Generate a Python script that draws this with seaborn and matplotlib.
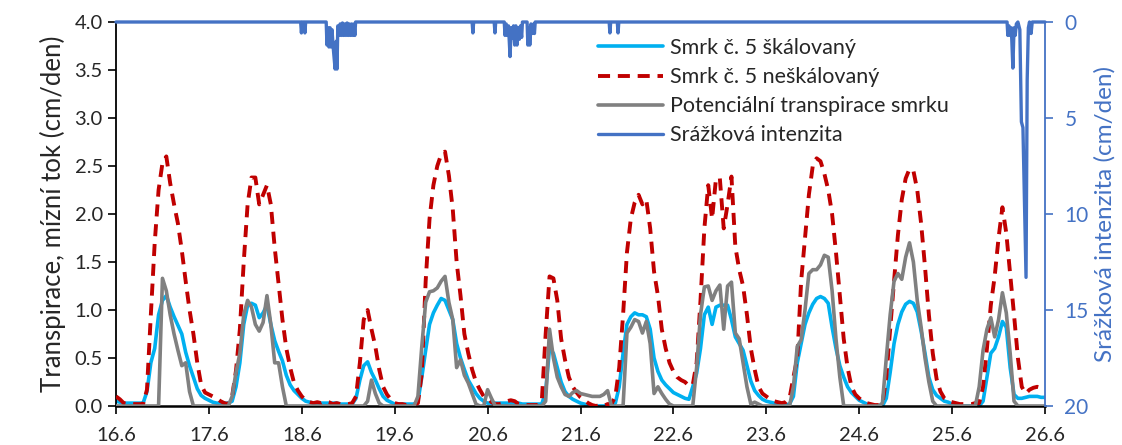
import numpy as np
import pandas as pd
import matplotlib
matplotlib.use("Agg")
import matplotlib.pyplot as plt
import seaborn as sns

# Hourly series, 16.6. 00:00 through 26.6. 00:00 (241 values each), cm/den
scaled = [
    0.05, 0.04, 0.03, 0.03, 0.03, 0.03, 0.03, 0.03, 0.15, 0.45, 0.60, 0.95, 1.10, 1.15, 1.03, 0.93, 0.84, 0.75, 0.56, 0.42, 0.30, 0.18, 0.11, 0.08,
    0.06, 0.04, 0.03, 0.03, 0.03, 0.03, 0.05, 0.20, 0.45, 0.85, 1.05, 1.07, 1.05, 0.92, 0.97, 1.05, 0.85, 0.68, 0.57, 0.47, 0.32, 0.22, 0.16, 0.12,
    0.08, 0.05, 0.04, 0.03, 0.03, 0.03, 0.03, 0.03, 0.03, 0.03, 0.02, 0.02, 0.02, 0.02, 0.08, 0.27, 0.42, 0.46, 0.35, 0.27, 0.18, 0.10, 0.06, 0.04,
    0.02, 0.02, 0.02, 0.02, 0.02, 0.02, 0.05, 0.30, 0.58, 0.85, 0.97, 1.05, 1.12, 1.10, 1.00, 0.90, 0.65, 0.50, 0.38, 0.27, 0.20, 0.13, 0.08, 0.05,
    0.03, 0.03, 0.03, 0.03, 0.03, 0.03, 0.03, 0.03, 0.03, 0.02, 0.02, 0.02, 0.02, 0.02, 0.02, 0.15, 0.60, 0.55, 0.40, 0.25, 0.15, 0.10, 0.07, 0.05,
    0.03, 0.02, 0.01, 0.00, 0.00, 0.00, 0.00, 0.01, 0.01, 0.03, 0.20, 0.55, 0.85, 0.93, 0.97, 0.95, 0.95, 0.93, 0.80, 0.50, 0.36, 0.27, 0.22, 0.18,
    0.14, 0.12, 0.10, 0.08, 0.07, 0.20, 0.34, 0.60, 0.95, 1.03, 0.85, 1.03, 1.05, 1.05, 1.05, 0.90, 0.72, 0.65, 0.58, 0.42, 0.26, 0.16, 0.11, 0.07,
    0.05, 0.04, 0.03, 0.02, 0.01, 0.01, 0.02, 0.10, 0.45, 0.65, 0.85, 0.97, 1.06, 1.12, 1.14, 1.12, 1.07, 0.82, 0.60, 0.42, 0.30, 0.20, 0.14, 0.10,
    0.06, 0.04, 0.02, 0.01, 0.00, 0.00, 0.00, 0.08, 0.35, 0.65, 0.85, 0.98, 1.06, 1.09, 1.07, 0.98, 0.78, 0.55, 0.30, 0.17, 0.11, 0.08, 0.05, 0.04,
    0.02, 0.01, 0.00, 0.00, 0.00, 0.00, 0.00, 0.00, 0.05, 0.30, 0.55, 0.60, 0.72, 0.88, 0.82, 0.40, 0.12, 0.08, 0.08, 0.09, 0.10, 0.10, 0.10, 0.09,
    0.09,
]

unscaled = [
    0.10, 0.07, 0.03, 0.02, 0.02, 0.02, 0.02, 0.02, 0.17, 0.95, 1.70, 2.25, 2.53, 2.60, 2.32, 2.10, 1.90, 1.62, 1.30, 1.00, 0.75, 0.45, 0.22, 0.14,
    0.12, 0.10, 0.08, 0.05, 0.03, 0.02, 0.10, 0.37, 0.80, 1.50, 2.10, 2.38, 2.38, 2.10, 2.20, 2.30, 2.10, 1.65, 1.28, 0.90, 0.60, 0.40, 0.24, 0.16,
    0.10, 0.06, 0.04, 0.03, 0.04, 0.03, 0.05, 0.04, 0.02, 0.03, 0.02, 0.02, 0.02, 0.03, 0.10, 0.45, 0.90, 1.00, 0.80, 0.62, 0.38, 0.20, 0.12, 0.07,
    0.03, 0.02, 0.02, 0.01, 0.02, 0.02, 0.03, 0.34, 1.30, 1.95, 2.30, 2.50, 2.62, 2.65, 2.40, 2.05, 1.50, 1.15, 0.75, 0.55, 0.38, 0.25, 0.17, 0.10,
    0.08, 0.04, 0.02, 0.02, 0.03, 0.05, 0.06, 0.05, 0.02, 0.01, 0.01, 0.01, 0.01, 0.01, 0.05, 0.75, 1.35, 1.33, 1.10, 0.70, 0.48, 0.30, 0.20, 0.14,
    0.09, 0.06, 0.03, 0.01, 0.00, 0.01, 0.00, 0.02, 0.02, 0.10, 0.40, 0.95, 1.60, 1.95, 2.12, 2.20, 2.10, 2.15, 1.85, 1.40, 1.15, 0.80, 0.60, 0.45,
    0.36, 0.30, 0.27, 0.25, 0.21, 0.22, 0.45, 1.10, 1.85, 2.30, 1.95, 2.37, 2.37, 1.85, 2.10, 2.39, 1.66, 1.42, 1.25, 0.95, 0.60, 0.38, 0.20, 0.13,
    0.10, 0.07, 0.05, 0.04, 0.03, 0.04, 0.08, 0.30, 0.50, 1.30, 1.75, 2.20, 2.50, 2.58, 2.55, 2.42, 2.25, 2.00, 1.60, 1.15, 0.70, 0.40, 0.20, 0.12,
    0.08, 0.05, 0.03, 0.02, 0.01, 0.01, 0.02, 0.30, 0.80, 1.30, 1.78, 2.15, 2.37, 2.47, 2.45, 2.25, 1.90, 1.45, 0.95, 0.55, 0.28, 0.15, 0.08, 0.05,
    0.04, 0.03, 0.02, 0.02, 0.02, 0.02, 0.03, 0.03, 0.20, 0.60, 1.05, 1.35, 1.75, 2.07, 1.80, 1.38, 0.95, 0.50, 0.20, 0.13, 0.17, 0.19, 0.20, 0.19,
    0.19,
]

potential = [
    0.00, 0.00, 0.00, 0.00, 0.00, 0.00, 0.00, 0.00, 0.00, 0.00, 0.00, 0.00, 1.33, 1.20, 0.95, 0.75, 0.58, 0.42, 0.45, 0.15, 0.00, 0.00, 0.00, 0.00,
    0.00, 0.00, 0.00, 0.00, 0.00, 0.00, 0.10, 0.35, 0.55, 0.95, 1.10, 1.03, 0.85, 0.78, 0.87, 1.15, 0.85, 0.45, 0.45, 0.20, 0.00, 0.00, 0.00, 0.00,
    0.00, 0.00, 0.00, 0.00, 0.00, 0.00, 0.00, 0.00, 0.00, 0.00, 0.00, 0.00, 0.00, 0.00, 0.00, 0.00, 0.00, 0.05, 0.27, 0.13, 0.03, 0.00, 0.00, 0.00,
    0.00, 0.00, 0.00, 0.00, 0.00, 0.00, 0.10, 0.62, 1.08, 1.19, 1.20, 1.23, 1.30, 1.35, 1.08, 0.90, 0.40, 0.48, 0.32, 0.24, 0.13, 0.02, 0.00, 0.00,
    0.17, 0.08, 0.00, 0.00, 0.00, 0.00, 0.00, 0.00, 0.00, 0.00, 0.00, 0.00, 0.00, 0.00, 0.00, 0.05, 0.80, 0.50, 0.30, 0.20, 0.12, 0.10, 0.14, 0.16,
    0.13, 0.12, 0.11, 0.10, 0.10, 0.10, 0.12, 0.16, 0.00, 0.00, 0.00, 0.00, 0.76, 0.82, 0.90, 0.88, 0.76, 0.88, 0.65, 0.13, 0.20, 0.13, 0.07, 0.02,
    0.00, 0.00, 0.00, 0.00, 0.00, 0.00, 0.40, 0.95, 1.24, 1.25, 1.10, 1.20, 1.26, 0.80, 1.25, 1.29, 0.76, 0.70, 0.45, 0.20, 0.02, 0.04, 0.02, 0.00,
    0.00, 0.00, 0.00, 0.00, 0.00, 0.00, 0.00, 0.20, 0.62, 0.69, 1.00, 1.38, 1.42, 1.42, 1.47, 1.57, 1.55, 1.20, 0.70, 0.30, 0.00, 0.00, 0.00, 0.00,
    0.00, 0.00, 0.00, 0.00, 0.00, 0.00, 0.03, 0.50, 0.95, 1.30, 1.38, 1.32, 1.55, 1.70, 1.50, 1.10, 0.82, 0.50, 0.25, 0.05, 0.00, 0.00, 0.00, 0.00,
    0.00, 0.00, 0.00, 0.00, 0.00, 0.00, 0.00, 0.20, 0.58, 0.80, 0.92, 0.72, 0.90, 1.18, 0.97, 0.55, 0.05, 0.00, 0.00, 0.00, 0.00, 0.00, 0.00, 0.00,
    0.00,
]

# Rain intensity (cm/den) at irregular times, hours since 16.6. 00:00
rain_hours = [
    0.0, 47.7, 47.9, 48.1, 48.6, 48.8, 49.0,
    54.3, 54.5, 54.8, 55.0, 55.3, 55.5, 55.8, 56.1, 56.6, 56.9, 57.1, 57.3, 57.6, 57.9, 58.2,
    58.5, 58.8, 59.1, 59.4, 59.7, 60.0, 60.3, 60.6, 60.9, 61.2, 61.5, 61.7, 61.9,
    92.0, 92.2, 92.4, 97.7, 97.9, 98.1,
    100.3, 100.5, 100.8, 101.1, 101.4, 101.8, 102.1, 102.4, 102.7, 103.0, 103.3, 103.6, 103.9,
    104.2, 104.5, 104.8, 105.0, 106.2, 106.4, 106.7, 106.9, 107.2, 107.6, 107.9, 108.1, 108.3,
    127.4, 127.6, 127.8, 129.5, 129.7, 129.9,
    230.2, 230.4, 230.7, 231.0, 231.3, 231.7, 232.0, 232.3, 232.6, 233.0, 233.5, 233.9, 234.3,
    235.1, 235.4, 235.7, 236.0, 236.4, 236.7, 240.0,
]
rain_values = [
    0.0, 0.0, 0.57, 0.0, 0.0, 0.57, 0.0,
    0.0, 1.2, 0.3, 1.3, 0.3, 1.3, 0.4, 1.3, 2.45, 1.0, 2.45, 0.2, 0.7, 0.1, 0.7,
    0.05, 0.7, 0.1, 0.7, 0.05, 0.7, 0.1, 0.7, 0.1, 0.7, 0.1, 0.7, 0.0,
    0.0, 0.57, 0.0, 0.0, 0.57, 0.0,
    0.0, 0.7, 0.1, 0.7, 0.2, 1.8, 0.3, 0.85, 0.2, 1.2, 0.2, 1.2, 0.3,
    0.9, 0.2, 0.8, 0.0, 0.0, 1.2, 0.3, 1.2, 0.1, 0.6, 0.1, 0.6, 0.0,
    0.0, 0.57, 0.0, 0.0, 0.57, 0.0,
    0.0, 0.7, 0.2, 0.7, 0.3, 2.4, 0.3, 0.7, 0.1, 0.0, 0.4, 5.2, 5.5,
    13.3, 3.0, 0.3, 0.0, 0.6, 0.0, 0.0,
]

day_labels = ["16.6", "17.6", "18.6", "19.6", "20.6", "21.6", "22.6", "23.6", "24.6", "25.6", "26.6"]

labels = {
    "scaled": "Smrk č. 5 škálovaný",
    "unscaled": "Smrk č. 5 neškálovaný",
    "potential": "Potenciální transpirace smrku",
    "rain": "Srážková intenzita",
}

c_scaled = "#00B0F0"
c_unscaled = "#C00000"
c_potential = "#808080"
c_rain = "#4472C4"

sns.set_theme(style="white")
plt.rcParams["font.family"] = ["Lato", "DejaVu Sans"]

flow = pd.DataFrame({
    "den": np.arange(len(scaled)) / 24.0,
    "scaled": scaled,
    "unscaled": unscaled,
    "potential": potential,
})
rain = pd.DataFrame({"den": np.array(rain_hours) / 24.0, "rain": rain_values})

fig = plt.figure(figsize=(11.22, 4.45), dpi=100)
ax = fig.add_axes([116 / 1122, 1 - 406 / 445, (1045 - 116) / 1122, (406 - 22) / 445])

sns.lineplot(data=flow, x="den", y="scaled", ax=ax, color=c_scaled, lw=2.6,
             label=labels["scaled"], zorder=2)
sns.lineplot(data=flow, x="den", y="unscaled", ax=ax, color=c_unscaled, lw=2.8,
             linestyle=(0, (3.1, 2.0)), label=labels["unscaled"], zorder=3)
sns.lineplot(data=flow, x="den", y="potential", ax=ax, color=c_potential, lw=2.6,
             label=labels["potential"], zorder=4)

ax.set_xlim(0, 10)
ax.set_ylim(0, 4)
ax.set_xticks(range(len(day_labels)))
ax.set_xticklabels(day_labels)
ax.set_yticks(np.arange(0, 4.01, 0.5))
ax.set_yticklabels([f"{v:.1f}" for v in np.arange(0, 4.01, 0.5)])
ax.set_xlabel("")
ax.set_ylabel("Transpirace, mízní tok (cm/den)", fontsize=18.5, labelpad=6)
ax.tick_params(axis="both", which="major", labelsize=14.5, direction="out",
               length=6, width=1.2, color="black", left=True, bottom=True)
ax.tick_params(axis="x", pad=9)
for side in ("top", "right"):
    ax.spines[side].set_visible(False)
ax.spines["left"].set_color("black")
ax.spines["left"].set_linewidth(1.3)
ax.spines["bottom"].set_color("black")
ax.spines["bottom"].set_linewidth(1.8)

ax2 = ax.twinx()
sns.lineplot(data=rain, x="den", y="rain", ax=ax2, color=c_rain, lw=2.4,
             label=labels["rain"])
for ln in ax2.get_lines():
    ln.set_clip_on(False)
ax2.set_ylim(20, 0)
ax2.set_xlim(0, 10)
ax2.set_yticks([0, 5, 10, 15, 20])
ax2.set_ylabel("Srážková intenzita (cm/den)", fontsize=17.5, color=c_rain, labelpad=4)
ax2.tick_params(axis="y", labelsize=15, direction="out", length=6, width=1.2,
                colors=c_rain, right=True, pad=8)
for side in ("top", "left", "bottom"):
    ax2.spines[side].set_visible(False)
ax2.spines["right"].set_color(c_rain)
ax2.spines["right"].set_linewidth(1.3)

h1, l1 = ax.get_legend_handles_labels()
h2, l2 = ax2.get_legend_handles_labels()
if ax.get_legend() is not None:
    ax.get_legend().remove()
ax2.legend(h1 + h2, l1 + l2, loc="upper left", bbox_to_anchor=(598 / 1122, 1 - 38 / 445),
           bbox_transform=fig.transFigure, frameon=False, fontsize=15.5,
           handlelength=3.0, handletextpad=0.35, labelspacing=0.42,
           borderpad=0, borderaxespad=0)

fig.savefig("out.png", dpi=100)
